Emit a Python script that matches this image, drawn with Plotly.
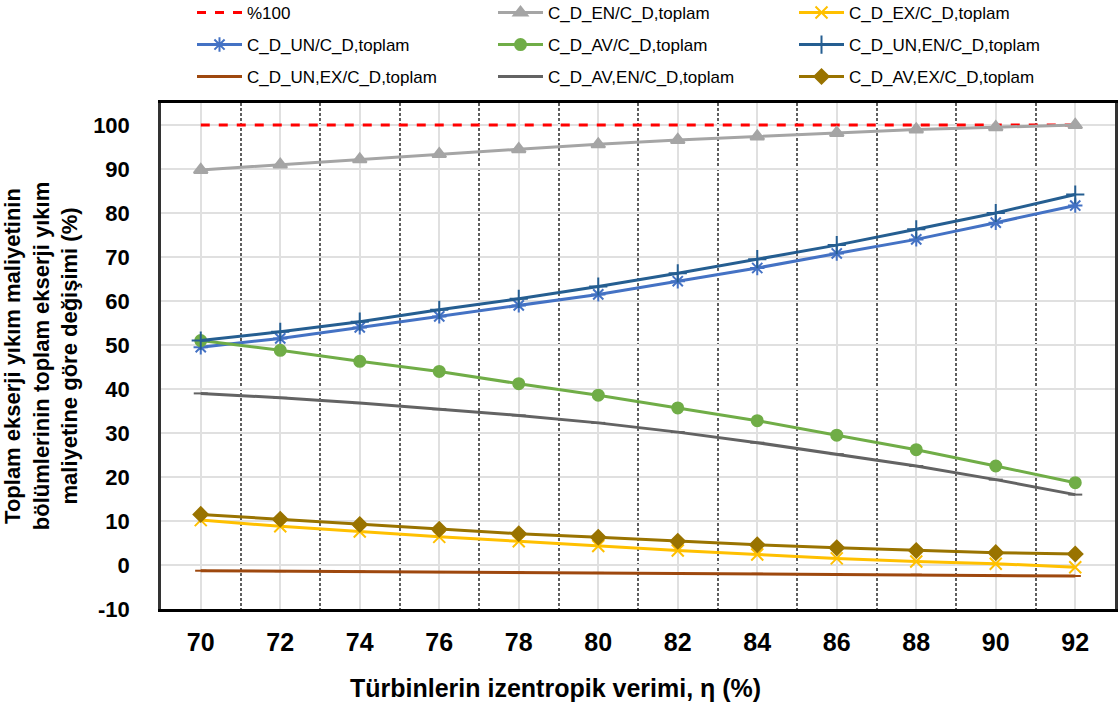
import plotly.graph_objects as go

x_vals = [70, 72, 74, 76, 78, 80, 82, 84, 86, 88, 90, 92]

ref_100 = [100] * 12
cd_en = [89.8, 91.0, 92.2, 93.4, 94.5, 95.6, 96.6, 97.4, 98.2, 99.0, 99.5, 100.0]
cd_ex = [10.2, 8.8, 7.6, 6.4, 5.4, 4.3, 3.3, 2.4, 1.5, 0.8, 0.3, -0.5]
cd_un = [49.5, 51.5, 54.0, 56.5, 59.0, 61.5, 64.5, 67.5, 70.8, 74.0, 77.8, 81.7]
cd_av = [51.0, 48.8, 46.3, 44.0, 41.2, 38.6, 35.7, 32.8, 29.5, 26.2, 22.5, 18.7]
cd_un_en = [51.0, 53.0, 55.3, 58.0, 60.5, 63.3, 66.3, 69.5, 72.7, 76.3, 80.0, 84.2]
cd_un_ex = [-1.3, -1.4, -1.5, -1.6, -1.7, -1.8, -1.9, -2.0, -2.1, -2.2, -2.3, -2.5]
cd_av_en = [39.0, 38.0, 36.8, 35.4, 34.0, 32.3, 30.2, 27.8, 25.2, 22.5, 19.4, 16.0]
cd_av_ex = [11.5, 10.4, 9.2, 8.1, 7.1, 6.3, 5.4, 4.6, 3.9, 3.3, 2.8, 2.5]

y_ticks = [-10, 0, 10, 20, 30, 40, 50, 60, 70, 80, 90, 100]
x_ticks = x_vals

series = [
    # name, data, color, dash, marker symbol, marker size, legend
    ("%100", ref_100, "#FF0000", "dash", None, 0, "legend"),
    ("C_D_EN/C_D,toplam", cd_en, "#A5A5A5", "solid", "triangle-up", 12, "legend"),
    ("C_D_EX/C_D,toplam", cd_ex, "#FFC000", "solid", "x-thin-open", 12, "legend"),
    ("C_D_UN/C_D,toplam", cd_un, "#4472C4", "solid", "asterisk-open", 12, "legend2"),
    ("C_D_AV/C_D,toplam", cd_av, "#70AD47", "solid", "circle", 11, "legend2"),
    ("C_D_UN,EN/C_D,toplam", cd_un_en, "#255E91", "solid", "cross-thin-open", 13, "legend2"),
    ("C_D_UN,EX/C_D,toplam", cd_un_ex, "#9E480E", "solid", "line-ew-open", 8, "legend3"),
    ("C_D_AV,EN/C_D,toplam", cd_av_en, "#636363", "solid", "line-ew-open", 10, "legend3"),
    ("C_D_AV,EX/C_D,toplam", cd_av_ex, "#997300", "solid", "diamond", 11, "legend3"),
]

fig = go.Figure()
for name, data, color, dash, sym, size, leg in series:
    if sym is None:
        fig.add_trace(go.Scatter(
            x=x_vals, y=data, name=name, mode="lines",
            line=dict(color=color, width=3, dash=dash), legend=leg))
    else:
        fig.add_trace(go.Scatter(
            x=x_vals, y=data, name=name, mode="lines+markers",
            line=dict(color=color, width=3, dash=dash),
            marker=dict(symbol=sym, size=size, color=color,
                        line=dict(color=color, width=2)),
            legend=leg))

font_family = "Liberation Sans, Arial, sans-serif"
leg_common = dict(orientation="h", xref="container", yref="container",
                  x=192 / 1118, xanchor="left", yanchor="middle",
                  entrywidth=241, entrywidthmode="pixels", itemwidth=45,
                  font=dict(family=font_family, size=17, color="#000000"),
                  bgcolor="rgba(0,0,0,0)", tracegroupgap=0)

fig.update_layout(
    width=1118, height=711,
    margin=dict(l=161, r=3, t=103, b=102, autoexpand=False),
    paper_bgcolor="white", plot_bgcolor="white",
    font=dict(family=font_family, color="#000000"),
    legend=dict(**leg_common, y=1 - 13 / 711),
    legend2=dict(**leg_common, y=1 - 45 / 711),
    legend3=dict(**leg_common, y=1 - 77 / 711),
    xaxis=dict(
        range=[69, 93], tickvals=x_ticks, ticktext=[str(v) for v in x_ticks],
        showgrid=True, gridcolor="#E0E0E0", gridwidth=1.5,
        minor=dict(dtick=1, tick0=69, showgrid=True, gridcolor="#5E5E5E",
                   griddash="3px,2px", gridwidth=1.5),
        showline=True, linecolor="#000000", linewidth=3, mirror=True,
        ticks="", ticklabelstandoff=9, zeroline=False,
        tickfont=dict(family=font_family, size=25, color="#000000", weight="bold"),
    ),
    yaxis=dict(
        range=[-10, 105], tickvals=y_ticks, ticktext=[str(v) for v in y_ticks],
        showgrid=True, gridcolor="#E0E0E0", gridwidth=1.5,
        showline=True, linecolor="#333333", linewidth=2.5, mirror=True,
        ticks="", ticklabelstandoff=24, zeroline=False,
        tickfont=dict(family=font_family, size=22, color="#000000", weight="bold"),
        title=dict(text="<b>Toplam ekserji yıkım maliyetinin<br>bölümlerinin toplam ekserji yıkım<br>maliyetine göre değişimi (%)</b>",
                   standoff=11,
                   font=dict(family=font_family, size=22, color="#000000")),
    ),
    annotations=[dict(
        text="<b>Türbinlerin izentropik verimi, η (%)</b>",
        xref="paper", yref="paper", x=(555 - 161) / (1115 - 161), y=(609 - 688) / 506,
        xanchor="center", yanchor="middle", showarrow=False,
        font=dict(family=font_family, size=25, color="#000000"),
    )],
)

fig.write_html("out.html")
